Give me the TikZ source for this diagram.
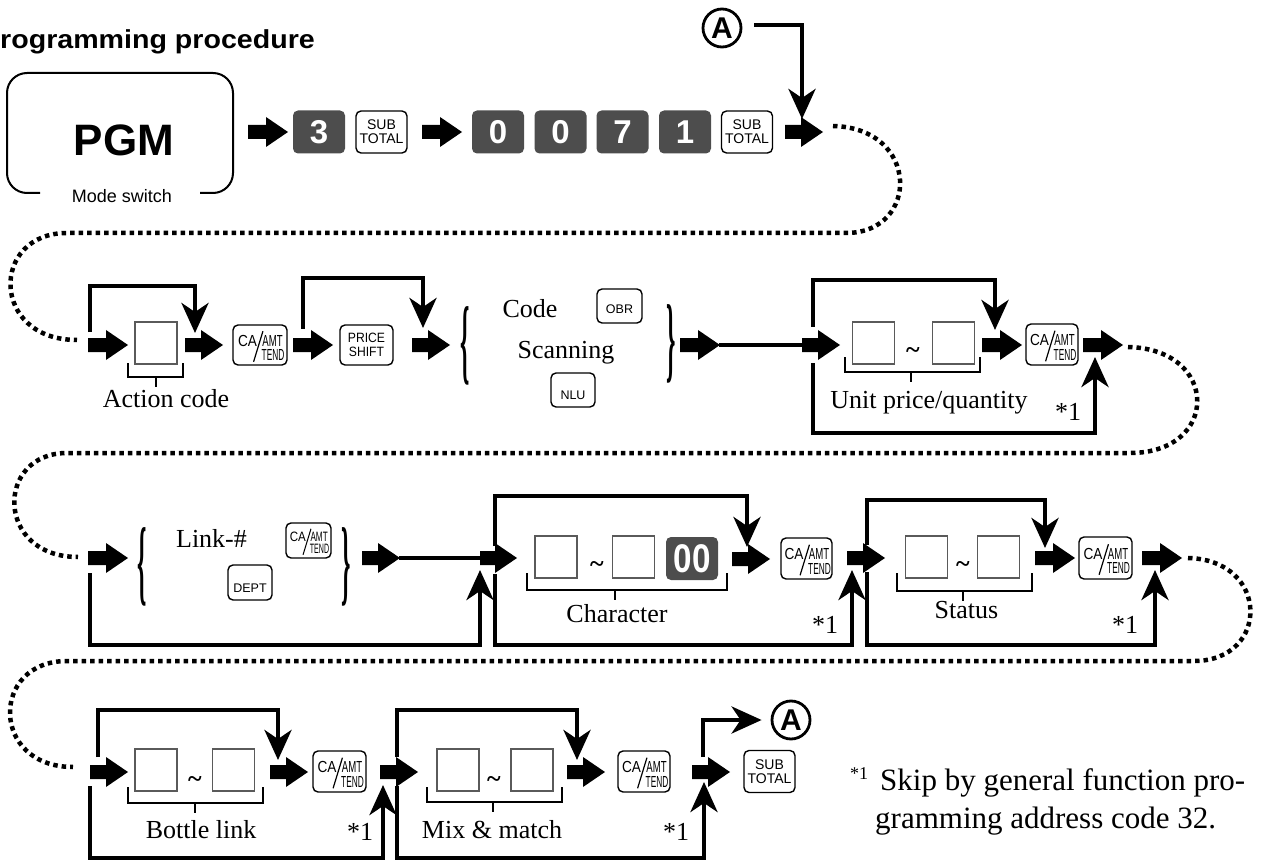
\documentclass[tikz,border=0pt]{standalone}
\usepackage{fontspec}
\setmainfont{Liberation Serif}
\setsansfont{Liberation Sans}
\usetikzlibrary{arrows.meta}
\definecolor{keygray}{HTML}{4D4D4D}
\definecolor{boxgray}{HTML}{5A5A5A}
\newcommand\fs[1]{\fontsize{#1}{#1}\selectfont}
\newcommand\caamt{{\sffamily\setlength\unitlength{1pt}\begin{picture}(0,0)
 \put(-12.5,4.5){\makebox(0,0){\fs{16}\scalebox{0.85}[1]{CA}}}
 \put(12.5,4.5){\makebox(0,0){\fs{16}\scalebox{0.6}[1]{AMT}}}
 \put(13,-10){\makebox(0,0){\fs{16}\scalebox{0.52}[1]{TEND}}}
 \put(-7,-17){\rotatebox{73}{\rule{32pt}{1.2pt}}}
\end{picture}}}
\newcommand\bracel{\scalebox{0.25}[1]{\fs{95}\bfseries\{}}
\newcommand\bracer{\scalebox{0.25}[1]{\fs{95}\bfseries\}}}
\begin{document}
\begin{tikzpicture}[x=1pt,y=-1pt,
 key/.style={draw, line width=1.4pt, rounded corners=5pt, fill=white, inner sep=0pt, font=\sffamily},
 stkey/.style={key, minimum width=51pt, minimum height=42pt, align=center, font=\sffamily\fs{14}},
 dkey/.style={fill=keygray, rounded corners=5pt, inner sep=0pt, text=white, font=\sffamily\bfseries\fs{33}, minimum width=52pt, minimum height=43pt},
 ebox/.style={draw=boxgray, line width=1.5pt, minimum width=42pt, minimum height=42pt, inner sep=0pt},
 lbl/.style={font=\fs{26}, inner sep=0pt, anchor=base},
 tld/.style={font=\bfseries\fs{26}, inner sep=0pt, anchor=base},
 brc/.style={inner sep=0pt},
 loopa/.style={line width=4.5pt, -{Stealth[length=30pt,width=27pt,inset=9pt]}},
 thick line/.style={line width=4.5pt},
 dots/.style={line width=4.5pt, dash pattern=on 4.5pt off 4pt},
 brk/.style={line width=2pt},
 circA/.style={circle, draw, line width=2.8pt, minimum size=38pt, inner sep=0pt, font=\sffamily\bfseries\fs{30}},
 pics/barrow/.style={code={\fill (0,-7) -- ({#1-22},-7) -- ({#1-22},-15) -- (#1,0) -- ({#1-22},15) -- ({#1-22},7) -- (0,7) -- cycle;}}
]
\useasboundingbox (0,0) rectangle (1262,861);

% title
\node[anchor=base west, inner sep=0pt, font=\sffamily\bfseries\fs{26}] (title) at (0,49) {\scalebox{1.1}[1]{rogramming procedure}};

% PGM
\draw[line width=2pt, rounded corners=20pt] (40,193) -- (7,193) -- (7,73) -- (233,73) -- (233,193) -- (200,193);
\node[font=\sffamily\bfseries\fs{44}, inner sep=0pt] (pgm) at (124,140) {PGM};
\node[font=\sffamily\fs{18}, inner sep=0pt, anchor=base] (mode) at (122,203) {Mode switch};

% row 1
\pic at (248,132) {barrow=40};
\node[dkey] (k3) at (319,132) {3};
\node[stkey] (st1) at (381.5,132) {SUB\\TOTAL};
\pic at (422,132) {barrow=40};
\node[dkey] (k0a) at (498,132) {0};
\node[dkey] (k0b) at (560.5,132) {0};
\node[dkey] (k7) at (622.5,132) {7};
\node[dkey] (k1) at (685,132) {1};
\node[stkey] (st2) at (747,132) {SUB\\TOTAL};
\pic at (785,132) {barrow=38};
\node[circA] (A1) at (722,28) {A};
\draw[loopa] ([xshift=12pt,yshift=3pt]A1.east) -| (802,119);

\draw[dots] (833,126) .. controls (920,128) and (920,232) .. (847,233) -- (67,233) .. controls (-10,233) and (-10,340) .. (77,340);

% row 2
\pic at (88,345) {barrow=40};
\draw[loopa] (90,332) -- (90,286) -- (195,286) -- (195,333);
\node[ebox] (ac) at (156,343) {};
\draw[brk] (128,363) -- (128,377) -- (183,377) -- (183,363) (156,377) -- (156,387);
\node[lbl] (acl) at (166,407) {Action code};
\pic at (185,345) {barrow=38};
\node[key, minimum width=54pt, minimum height=40pt] (ca1) at (260,345) {\caamt};
\pic at (293,345) {barrow=40};
\draw[loopa] (303,329) -- (303,278) -- (423,278) -- (423,328);
\node[key, minimum width=53pt, minimum height=40pt, align=center, font=\sffamily\fs{13.5}] (ps) at (366.5,345) {\scalebox{0.9}[1]{PRICE}\\\scalebox{0.9}[1]{SHIFT}};
\pic at (412,345) {barrow=38};
\node[brc] (bl1) at (465,346) {\bracel};
\node[lbl] (code) at (530,318) {Code};
\node[key, minimum width=45pt, minimum height=34pt, font=\sffamily\fs{12.5}] (obr) at (619.5,306) {\raisebox{-8pt}[0pt][0pt]{OBR}};
\node[lbl] (scan) at (566,358) {Scanning};
\node[key, minimum width=44pt, minimum height=34pt, font=\sffamily\fs{12.5}] (nlu) at (573,390) {\raisebox{-9.5pt}[0pt][0pt]{NLU}};
\node[brc] (br1) at (671,344) {\bracer};
\pic at (680,345) {barrow=40};
\draw[thick line] (719,345) -- (803,345);
\pic at (802,345) {barrow=38};
\draw[loopa] (813,327) -- (813,280) -- (995,280) -- (995,330);
\draw[loopa] (813,363) -- (813,433) -- (1095,433) -- (1095,357);
\node[ebox] (u1) at (873.5,343) {};
\node[ebox] (u2) at (953.5,343) {};
\node[tld] (ut) at (913,359) {\textasciitilde};
\draw[brk] (845,357) -- (845,372) -- (980,372) -- (980,357) (911,372) -- (911,382);
\node[lbl] (upl) at (929,408) {Unit price/quantity};
\pic at (982,345) {barrow=40};
\node[key, minimum width=52pt, minimum height=41pt] (ca2) at (1052,344.5) {\caamt};
\pic at (1083,345) {barrow=40};
\node[lbl] (s1) at (1068,420) {*1};

\draw[dots] (1128,347) .. controls (1220,349) and (1220,453) .. (1130,453) -- (67,453) .. controls (-5,453) and (-5,557) .. (78,557);

% row 3
\pic at (88,558) {barrow=40};
\draw[loopa] (90,573) -- (90,645) -- (480,645) -- (480,570);
\node[brc] (bl2) at (142.5,566.5) {\bracel};
\node[lbl] (link) at (211.5,547) {Link-\#};
\node[key, minimum width=45pt, minimum height=35pt] (ca3) at (308.5,540.5) {\scalebox{0.85}{\caamt}};
\node[key, minimum width=44pt, minimum height=35pt, font=\sffamily\fs{12.5}] (dept) at (250,582.5) {\raisebox{-9.5pt}[0pt][0pt]{DEPT}};
\node[brc] (br2) at (346,567) {\bracer};
\pic at (362,558) {barrow=38};
\draw[thick line] (399,558) -- (481,558);
\pic at (480,558) {barrow=37};
\draw[loopa] (495,546) -- (495,496) -- (747,496) -- (747,547);
\draw[loopa] (495,574) -- (495,645) -- (852,645) -- (852,570);
\node[ebox] (c1) at (556,557) {};
\node[ebox] (c2) at (633.5,557) {};
\node[tld] (ct) at (597,572) {\textasciitilde};
\node[dkey, font=\sffamily\bfseries\fs{40}] (k00) at (692,558.5) {\scalebox{0.83}[1]{00}};
\draw[brk] (527,573) -- (527,590) -- (727,590) -- (727,573) (615,590) -- (615,600);
\node[lbl] (chl) at (617,622) {Character};
\pic at (732,559) {barrow=38};
\node[key, minimum width=51pt, minimum height=41pt] (ca4) at (806.5,558.5) {\caamt};
\pic at (847,558) {barrow=38};
\node[lbl] (s2) at (825,633) {*1};
\draw[loopa] (867,545) -- (867,500) -- (1045,500) -- (1045,548);
\draw[loopa] (867,572) -- (867,645) -- (1155,645) -- (1155,570);
\node[ebox] (sb1) at (926.5,557) {};
\node[ebox] (sb2) at (998.5,557) {};
\node[tld] (stl) at (963,572) {\textasciitilde};
\draw[brk] (897,573) -- (897,591) -- (1032,591) -- (1032,573) (963,591) -- (963,601);
\node[lbl] (stat) at (966.5,618) {Status};
\pic at (1035,558) {barrow=40};
\node[key, minimum width=53pt, minimum height=42pt] (ca5) at (1105.5,558) {\caamt};
\pic at (1142,558) {barrow=40};
\node[lbl] (s3) at (1125,633) {*1};

\draw[dots] (1188,558) .. controls (1270,560) and (1270,660) .. (1195,661) -- (67,661) .. controls (-10,661) and (-10,767) .. (73,767);

% row 4
\pic at (90,772) {barrow=38};
\draw[loopa] (98,757) -- (98,710) -- (278,710) -- (278,760);
\draw[loopa] (90,786) -- (90,858) -- (383,858) -- (383,785);
\node[ebox] (bb1) at (156,770) {};
\node[ebox] (bb2) at (233.5,770) {};
\node[tld] (bt) at (195,787) {\textasciitilde};
\draw[brk] (128,787) -- (128,803) -- (263,803) -- (263,787) (195,803) -- (195,813);
\node[lbl] (btl) at (201,838) {Bottle link};
\pic at (270,772) {barrow=38};
\node[key, minimum width=53pt, minimum height=41pt] (ca6) at (339.5,771.5) {\caamt};
\pic at (380,772) {barrow=38};
\node[lbl] (s4) at (360,840) {*1};
\draw[loopa] (397,757) -- (397,710) -- (577,710) -- (577,760);
\draw[loopa] (397,786) -- (397,858) -- (704,858) -- (704,782);
\node[ebox] (mb1) at (458,770) {};
\node[ebox] (mb2) at (532,770) {};
\node[tld] (mt) at (494,787) {\textasciitilde};
\draw[brk] (427,787) -- (427,802) -- (562,802) -- (562,787) (493,802) -- (493,812);
\node[lbl] (mml) at (492,838) {Mix \& match};
\pic at (567,772) {barrow=38};
\node[key, minimum width=52pt, minimum height=41pt] (ca7) at (644,771.5) {\caamt};
\pic at (692,772) {barrow=38};
\node[lbl] (s5) at (676,840) {*1};
\node[circA] (A2) at (791,720) {A};
\draw[loopa] (703,757) |- ([xshift=-9pt]A2.west);
\node[stkey] (st3) at (769.5,771.5) {SUB\\TOTAL};

% footnote
\node[anchor=base west, inner sep=0pt, font=\fs{18}] (fn0) at (850,779) {*1};
\node[anchor=base west, inner sep=0pt, font=\fs{31}] (fn1) at (880,790) {Skip by general function pro-};
\node[anchor=base west, inner sep=0pt, font=\fs{31}] (fn2) at (875,828) {gramming address code 32.};
\end{tikzpicture}
\end{document}
